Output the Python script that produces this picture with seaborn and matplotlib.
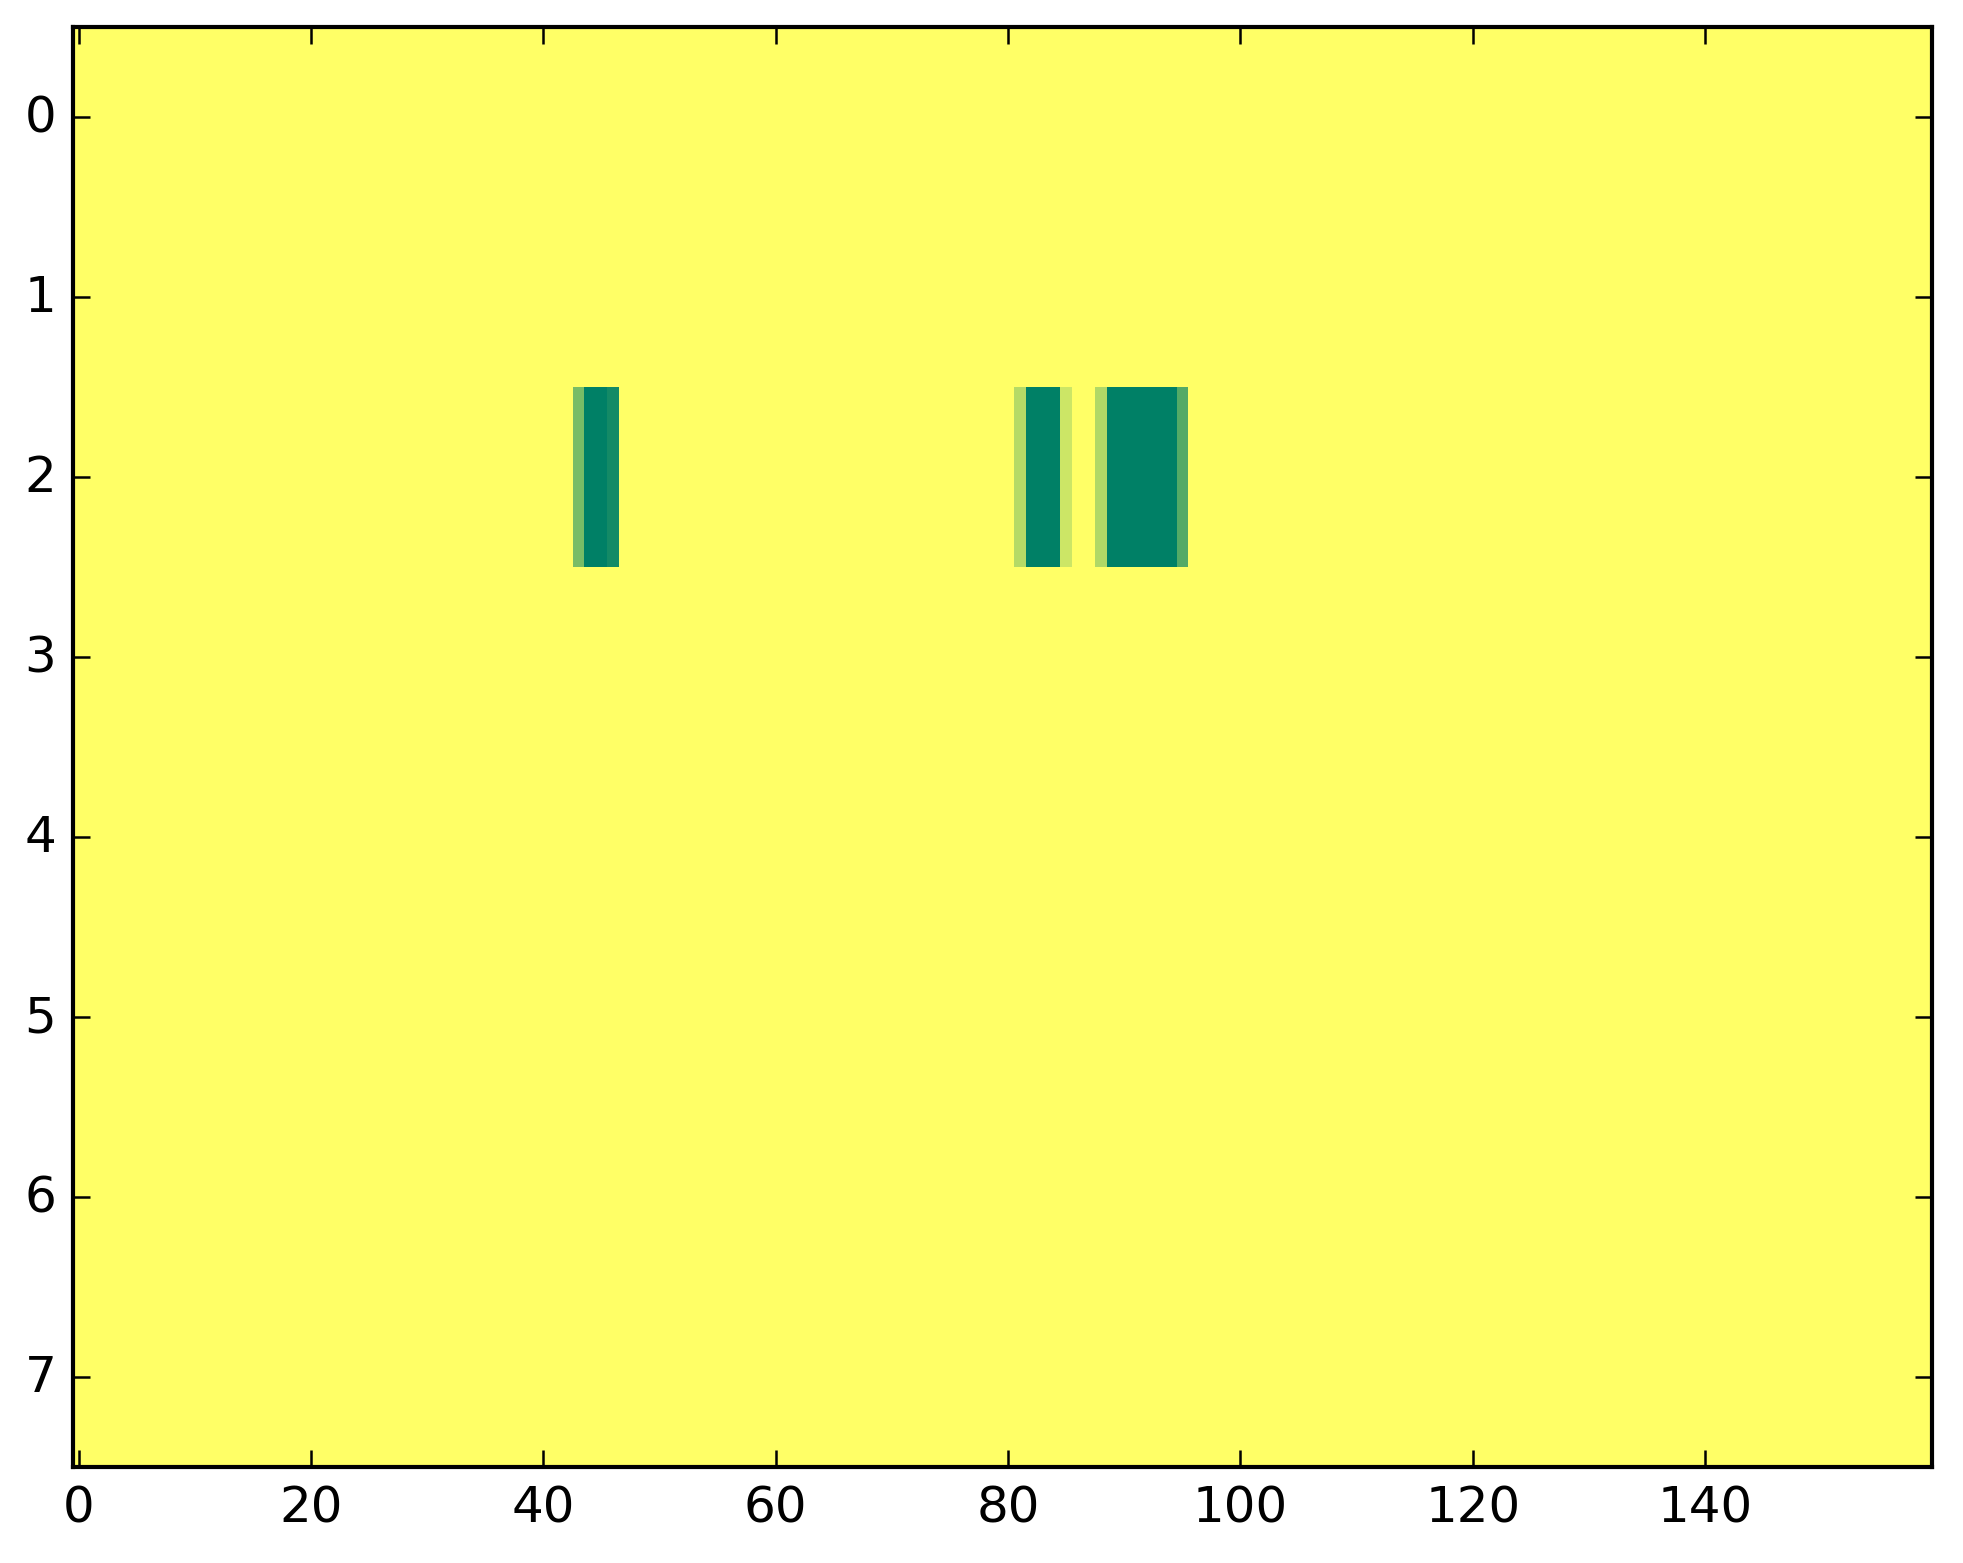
import numpy as np
import matplotlib
matplotlib.use("Agg")
import matplotlib.pyplot as plt
import seaborn as sns

# grid shape and the few non-zero cells (all in row 2)
n_rows = 8
n_cols = 160
hot_row = 2
hot_cols = [43, 44, 45, 46, 81, 82, 83, 84, 85, 88, 89, 90, 91, 92, 93, 94, 95]
hot_vals = [0.53, 1.0, 1.0, 0.92, 0.29, 1.0, 1.0, 1.0, 0.2, 0.31, 1.0, 1.0, 1.0, 1.0, 1.0, 1.0, 0.67]

xtick_labels = [0, 20, 40, 60, 80, 100, 120, 140]
ytick_labels = [0, 1, 2, 3, 4, 5, 6, 7]

grid = np.zeros((n_rows, n_cols))
grid[hot_row, hot_cols] = hot_vals

sns.set_style("ticks")
plt.rcParams['font.family'] = ['DejaVu Sans']
plt.rcParams.update({"font.size": 12, "axes.linewidth": 1.0})

fig, ax = plt.subplots(figsize=(1963 / 300, 1564 / 300), dpi=300)
fig.subplots_adjust(left=0.0372, right=0.984, top=0.982, bottom=0.0614)

sns.heatmap(grid, cmap="summer_r", vmin=0, vmax=1, cbar=False, ax=ax)

# ticks must sit above the mesh
ax.set_axisbelow(False)
ax.set_xticks([v + 0.5 for v in xtick_labels])
ax.set_xticklabels([str(v) for v in xtick_labels], rotation=0, fontsize=12)
ax.set_yticks([v + 0.5 for v in ytick_labels])
ax.set_yticklabels([str(v) for v in ytick_labels], rotation=0, fontsize=12)
ax.tick_params(axis="both", which="major", direction="in", length=4, width=0.6,
               pad=4, colors="black", labelcolor="black",
               top=True, right=True, bottom=True, left=True)
for s in ax.spines.values():
    s.set_visible(True)
    s.set_linewidth(1.0)
    s.set_color("black")
    s.set_zorder(5)

fig.savefig("out.png", dpi=300, facecolor="white")
